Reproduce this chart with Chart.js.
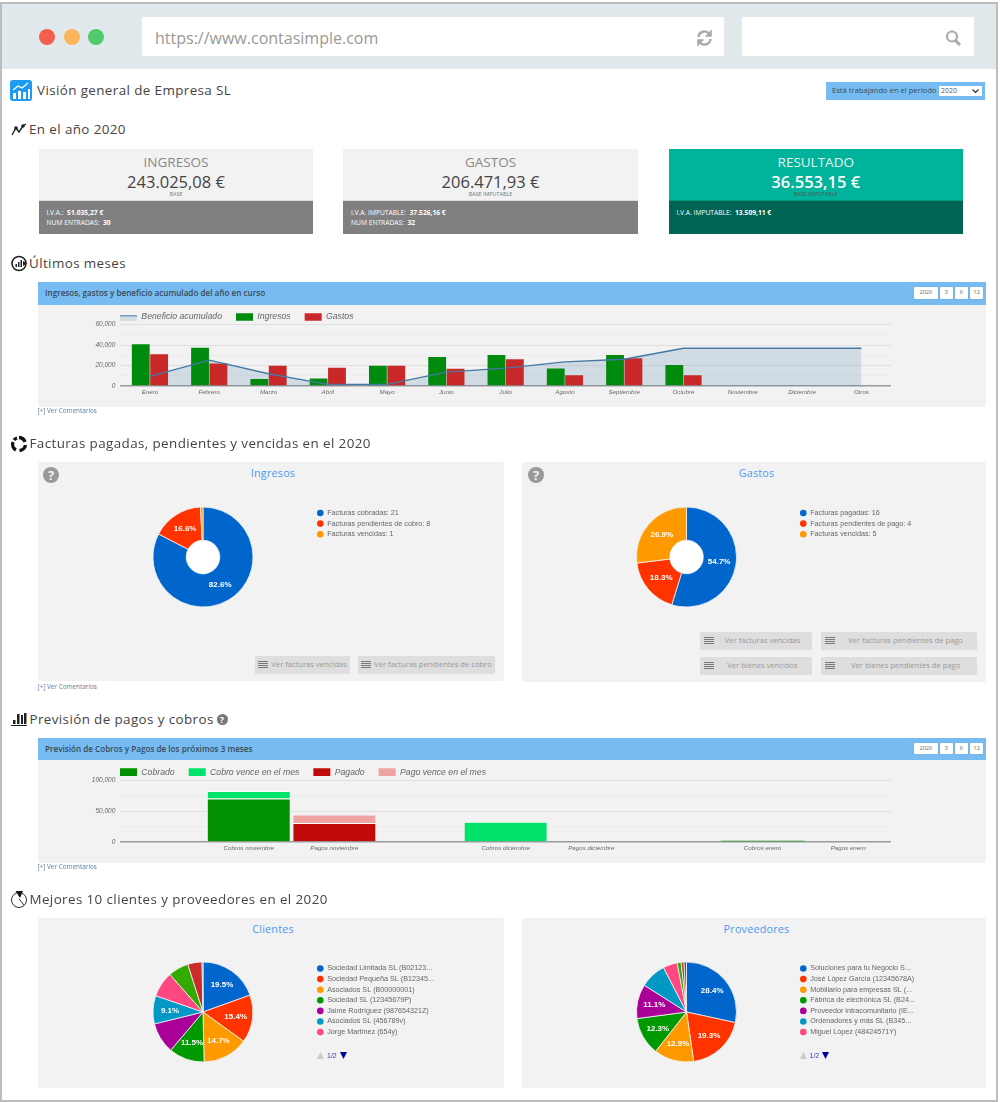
<!DOCTYPE html>
<html lang="es">
<head>
<meta charset="utf-8">
<title>Visión general de Empresa SL</title>
<script src="https://cdn.jsdelivr.net/npm/chart.js@4"></script>
<style>
  html, body { margin: 0; padding: 0; background: #fff; }
  body { width: 1000px; height: 1102px; position: relative; overflow: hidden; font-family: 'Open Sans', sans-serif; color: #444; }
  .box { position: absolute; }
  .t { position: absolute; white-space: nowrap; line-height: 1; transform: translateY(-50%); }
  .c { text-align: center; }
  .h { font-size: 13.4px; letter-spacing: .4px; color: #444; }
  .panel { position: absolute; background: #f2f2f2; border-radius: 2px; }
  .bar { position: absolute; background: #76bcf2; }
  .tit { font-size: 8.15px; font-weight: 600; color: #3c4a55; }
  .tb { position: absolute; background: #fff; border-radius: 1px; font-size: 5.6px; line-height: 11.5px; text-align: center; color: #666; box-shadow: 0 0 1px #888; }
  .com { font-size: 6.4px; color: #5b7ea3; }
  .pt { font-size: 10.8px; color: #4a9af0; letter-spacing: .2px; }
  .q { position: absolute; width: 16px; height: 16px; border-radius: 50%; background: #999; color: #f2f2f2; font: bold 13px/16px 'Open Sans', sans-serif; text-align: center; }
  .btn { position: absolute; background: #dedede; border-radius: 1px; color: #999; font-size: 7.6px; height: 17.5px; line-height: 17.5px; }
  .btn i { position: absolute; left: 3px; top: 5px; width: 10px; height: 8px; background: repeating-linear-gradient(#777 0 1px, #dedede 1px 2px); }
  .btn span { position: absolute; left: 15px; right: 2px; text-align: center; }
  .card { position: absolute; top: 149px; height: 85px; background: #f2f2f2; }
  .card .low { position: absolute; left: 0; right: 0; top: 51px; bottom: 0; background: #808080; border-top: 1px solid #ddd; box-sizing: border-box; }
  .k { font-size: 13.5px; color: #888; }
  .n { font-size: 16.5px; color: #444; }
  .b { font-size: 5.4px; color: #777; }
  .m { font-size: 6.7px; color: #fff; }
  canvas { position: absolute; }
  .pg { position: absolute; font: 7px 'Liberation Sans', Arial, sans-serif; color: #3a3ac0; }
</style>
</head>
<body>

<!-- marco del navegador -->
<div class="box" style="left:0;top:2px;height:1096px;border:2px solid #bdbdbd;box-sizing:content-box;width:994px;"></div>
<div class="box" style="left:2px;top:4px;width:994px;height:65px;background:#e2e9ed;"></div>
<div class="box" style="left:39px;top:29px;width:16px;height:16px;border-radius:50%;background:#f35f4e;"></div>
<div class="box" style="left:64px;top:29px;width:16px;height:16px;border-radius:50%;background:#fdb55b;"></div>
<div class="box" style="left:88px;top:29px;width:16px;height:16px;border-radius:50%;background:#4fcb6e;"></div>
<div class="box" style="left:141.5px;top:17px;width:582px;height:38.5px;background:#fff;border-radius:2px;"></div>
<div class="box" style="left:742px;top:17px;width:232px;height:38.5px;background:#fff;border-radius:2px;"></div>
<div class="t" style="left:155px;top:38.3px;font-size:16px;color:#999;">https://www.contasimple.com</div>
<svg class="box" style="left:696px;top:29px;" width="17" height="18" viewBox="0 0 17 18" fill="none" stroke="#aaa" stroke-width="2.4">
  <path d="M2.5 8 A6 6 0 0 1 13 4.5"/><path d="M14.5 10 A6 6 0 0 1 4 13.5"/>
  <path d="M15 1 V7 H9.5" stroke-width="1.6" fill="#aaa"/><path d="M2 17 V11 H7.5" stroke-width="1.6" fill="#aaa"/>
</svg>
<svg class="box" style="left:945px;top:29px;" width="17" height="18" viewBox="0 0 17 18" fill="none" stroke="#aaa">
  <circle cx="7" cy="7.5" r="5" stroke-width="2.2"/><path d="M10.5 11.5 L15 16" stroke-width="3"/>
</svg>

<!-- cabecera -->
<svg class="box" style="left:10px;top:80px;" width="22" height="21" viewBox="0 0 22 21">
  <rect width="22" height="21" rx="3" fill="#1e9af0"/>
  <path d="M3 19 V13 H6 V19 Z M8 19 V11 H11 V19 Z M13 19 V12 H16 V19 Z M18 19 V9 H20 V19 Z" fill="#fff"/>
  <path d="M3 10 L8 6 L12 8 L18 3" stroke="#fff" stroke-width="1.3" fill="none"/>
</svg>
<div class="t h" style="left:37px;top:90.5px;">Visión general de Empresa SL</div>
<div class="box" style="left:826px;top:82px;width:159px;height:18px;background:#76bcf2;"></div>
<div class="t" style="left:832px;top:91px;font-size:7.6px;color:#3c4a55;">Está trabajando en el período</div>
<div class="box" style="left:939px;top:86px;width:43px;height:9.5px;background:#fff;font-size:7px;line-height:9.5px;color:#555;text-indent:2px;">2020<svg style="position:absolute;left:33px;top:3px" width="7" height="4"><path d="M0.5 0.5 L3.5 3.5 L6.5 0.5" fill="none" stroke="#333" stroke-width="1.2"/></svg></div>

<!-- En el año 2020 -->
<svg class="box" style="left:11px;top:122px;" width="17" height="15" viewBox="0 0 17 15" fill="none" stroke="#222" stroke-width="1.4">
  <path d="M1 13 L5 6 L8 10 L12 4 L15 2"/><circle cx="5" cy="6" r="1.1" fill="#222"/><circle cx="12" cy="4" r="1.1" fill="#222"/>
</svg>
<div class="t h" style="left:29px;top:130px;">En el año 2020</div>

<div class="card" style="left:39px;width:274px;">
  <div class="t k c" style="left:0;right:0;top:14px;">INGRESOS</div>
  <div class="t n c" style="left:0;right:0;top:33px;">243.025,08 €</div>
  <div class="t b c" style="left:0;right:0;top:46px;">BASE</div>
  <div class="low">
    <div class="t m" style="left:7.5px;top:12px;">I.V.A.: &nbsp;<b>51.035,27 €</b></div>
    <div class="t m" style="left:7.5px;top:21.5px;">NUM ENTRADAS: &nbsp;<b>30</b></div>
  </div>
</div>
<div class="card" style="left:343px;width:295px;">
  <div class="t k c" style="left:0;right:0;top:14px;">GASTOS</div>
  <div class="t n c" style="left:0;right:0;top:33px;">206.471,93 €</div>
  <div class="t b c" style="left:0;right:0;top:46px;">BASE IMPUTABLE</div>
  <div class="low">
    <div class="t m" style="left:8px;top:12px;">I.V.A. IMPUTABLE: &nbsp;<b>37.526,16 €</b></div>
    <div class="t m" style="left:8px;top:21.5px;">NUM ENTRADAS: &nbsp;<b>32</b></div>
  </div>
</div>
<div class="card" style="left:668.5px;width:294.5px;background:#00b39a;">
  <div class="t k c" style="left:0;right:0;top:14px;color:#e4f4f1;">RESULTADO</div>
  <div class="t n c" style="left:0;right:0;top:33px;color:#fff;font-weight:600;">36.553,15 €</div>
  <div class="t b c" style="left:0;right:0;top:46px;color:#555;">BASE IMPUTABLE</div>
  <div class="low" style="background:#006454;border-top-color:#009a85;">
    <div class="t m" style="left:8px;top:12px;">I.V.A. IMPUTABLE: &nbsp;<b>13.509,11 €</b></div>
  </div>
</div>

<!-- Últimos meses -->
<svg class="box" style="left:11px;top:255px;" width="17" height="17" viewBox="0 0 17 17">
  <circle cx="8" cy="8.5" r="7" fill="none" stroke="#222" stroke-width="1.6"/><path d="M4.5 12 V9 H6 V12 Z M7 12 V7 H8.5 V12 Z M9.5 12 V5 H11 V12 Z M12 6 L16 8.5 L12 11 Z" fill="#222"/>
</svg>
<div class="t h" style="left:29px;top:264px;">Últimos meses</div>

<div class="panel" style="left:38px;top:282px;width:948px;height:124.5px;"></div>
<div class="bar" style="left:38px;top:282px;width:948px;height:22.7px;"></div>
<div class="t tit" style="left:45px;top:293px;">Ingresos, gastos y beneficio acumulado del año en curso</div>
<div class="tb" style="left:913.7px;top:287.3px;width:24.3px;height:11.5px;">2020</div>
<div class="tb" style="left:939.7px;top:287.3px;width:13.3px;height:11.5px;">3</div>
<div class="tb" style="left:954.7px;top:287.3px;width:13.3px;height:11.5px;">6</div>
<div class="tb" style="left:970px;top:287.3px;width:13.3px;height:11.5px;">12</div>
<canvas id="barChart" style="left:38px;top:291px;" width="948" height="115"></canvas>
<div class="t com" style="left:37.5px;top:411px;">[+] Ver Comentarios</div>

<!-- Facturas -->
<svg class="box" style="left:10px;top:435px;" width="18" height="18" viewBox="0 0 18 18" fill="none" stroke="#111" stroke-width="3.4">
  <path d="M9 2.5 A6.5 6.5 0 0 1 15 7"/><path d="M15.5 10 A6.5 6.5 0 0 1 9.5 15.5"/><path d="M6 15 A6.5 6.5 0 0 1 3 7"/><path d="M4 5 A6.5 6.5 0 0 1 7 3"/>
</svg>
<div class="t h" style="left:29.5px;top:444px;">Facturas pagadas, pendientes y vencidas en el 2020</div>

<div class="panel" style="left:37.5px;top:462px;width:466px;height:218.7px;"></div>
<div class="t pt c" style="left:43px;width:460px;top:473px;">Ingresos</div>
<div class="q" style="left:43px;top:467px;">?</div>
<canvas id="ingresosChart" style="left:38px;top:497px;" width="465" height="120"></canvas>
<div class="btn" style="left:255px;top:656px;width:95px;"><i></i><span>Ver facturas vencidas</span></div>
<div class="btn" style="left:358px;top:656px;width:137px;"><i></i><span>Ver facturas pendientes de cobro</span></div>
<div class="t com" style="left:37.5px;top:687px;">[+] Ver Comentarios</div>

<div class="panel" style="left:522px;top:462px;width:463.7px;height:220px;"></div>
<div class="t pt c" style="left:527.5px;width:458px;top:473px;">Gastos</div>
<div class="q" style="left:528px;top:467px;">?</div>
<canvas id="gastosChart" style="left:522px;top:497px;" width="464" height="120"></canvas>
<div class="btn" style="left:700px;top:632px;width:112px;"><i style="left:4px"></i><span>Ver facturas vencidas</span></div>
<div class="btn" style="left:821px;top:632px;width:156.3px;"><i style="left:4px"></i><span>Ver facturas pendientes de pago</span></div>
<div class="btn" style="left:700px;top:657px;width:112px;"><i style="left:4px"></i><span>Ver bienes vencidos</span></div>
<div class="btn" style="left:821px;top:657px;width:156.3px;"><i style="left:4px"></i><span>Ver bienes pendientes de pago</span></div>

<!-- Previsión -->
<svg class="box" style="left:11px;top:712px;" width="16" height="14" viewBox="0 0 16 14">
  <path d="M0 13 H16 V14 H0 Z M2 12 V8 H4.5 V12 Z M6 12 V2 H8.5 V12 Z M10 12 V3 H12 V12 Z M13 12 V1 H15.5 V12 Z" fill="#222"/>
</svg>
<div class="t h" style="left:29.5px;top:719.5px;">Previsión de pagos y cobros</div>
<div class="box" style="left:216.5px;top:713.5px;width:11px;height:11px;border-radius:50%;background:#777;color:#fff;font:bold 9px/11px 'Open Sans',sans-serif;text-align:center;">?</div>

<div class="panel" style="left:38px;top:738px;width:948px;height:125px;"></div>
<div class="bar" style="left:38px;top:738px;width:948px;height:22.3px;"></div>
<div class="t tit" style="left:45px;top:749px;">Previsión de Cobros y Pagos de los próximos 3 meses</div>
<div class="tb" style="left:913.7px;top:742.7px;width:24.3px;height:11.5px;">2020</div>
<div class="tb" style="left:939.7px;top:742.7px;width:13.3px;height:11.5px;">3</div>
<div class="tb" style="left:954.7px;top:742.7px;width:13.3px;height:11.5px;">6</div>
<div class="tb" style="left:970px;top:742.7px;width:13.3px;height:11.5px;">12</div>
<canvas id="previsionChart" style="left:38px;top:746px;" width="948" height="116"></canvas>
<div class="t com" style="left:37.5px;top:867px;">[+] Ver Comentarios</div>

<!-- Mejores 10 -->
<svg class="box" style="left:10px;top:890px;" width="18" height="18" viewBox="0 0 18 18">
  <circle cx="9" cy="10" r="7.5" fill="none" stroke="#333" stroke-width="1"/><path d="M5.5 1 H13 L10 8 Z" fill="#111"/><path d="M9 9 L14 15" stroke="#333"/>
</svg>
<div class="t h" style="left:29.5px;top:900px;">Mejores 10 clientes y proveedores en el 2020</div>

<div class="panel" style="left:37.5px;top:917.7px;width:466px;height:170.6px;"></div>
<div class="t pt c" style="left:43px;width:460px;top:929px;">Clientes</div>
<canvas id="clientesChart" style="left:38px;top:952px;" width="465" height="120"></canvas>
<svg class="box" style="left:317px;top:1052px;" width="7" height="7"><path d="M0 7 L3.5 0 L7 7 Z" fill="#ccc"/></svg>
<div class="pg" style="left:327px;top:1052px;">1/2</div>
<svg class="box" style="left:340px;top:1052px;" width="7" height="7"><path d="M0 0 L3.5 7 L7 0 Z" fill="#0000a0"/></svg>

<div class="panel" style="left:522px;top:918px;width:463.7px;height:169.7px;"></div>
<div class="t pt c" style="left:527.5px;width:458px;top:929px;">Proveedores</div>
<canvas id="proveedoresChart" style="left:522px;top:952px;" width="464" height="120"></canvas>
<svg class="box" style="left:799.5px;top:1052px;" width="7" height="7"><path d="M0 7 L3.5 0 L7 7 Z" fill="#ccc"/></svg>
<div class="pg" style="left:809.5px;top:1052px;">1/2</div>
<svg class="box" style="left:822px;top:1052px;" width="7" height="7"><path d="M0 0 L3.5 7 L7 0 Z" fill="#0000a0"/></svg>

<script>
// datos
const meses = ['Enero', 'Febrero', 'Marzo', 'Abril', 'Mayo', 'Junio', 'Julio', 'Agosto', 'Septiembre', 'Octubre', 'Noviembre', 'Diciembre', 'Otros'];
const beneficio = [9400, 25200, 12000, 1600, 1600, 13500, 17400, 23500, 26100, 36800, 36800, 36800, 36800];
const ingresos = [40650, 37400, 6800, 7400, 19700, 28400, 30300, 17100, 30300, 20600, 0, 0, 0];
const gastos = [31000, 21900, 19700, 17700, 19700, 16800, 26100, 10600, 27100, 10600, 0, 0, 0];

const previsionLabels = ['', 'Cobros noviembre', 'Pagos noviembre', '', 'Cobros diciembre', 'Pagos diciembre', '', 'Cobros enero', 'Pagos enero'];
const cobrado = [null, 70000, null, null, null, null, null, 2100, null];
const cobroVence = [null, 12400, null, null, 32600, null, null, null, null];
const pagado = [null, null, 30500, null, null, null, null, null, null];
const pagoVence = [null, null, 13900, null, null, null, null, null, null];

const ingresosLabels = ['Facturas cobradas: 21', 'Facturas pendientes de cobro: 8', 'Facturas vencidas: 1'];
const ingresosData = [82.6, 16.6, 0.8];
const ingresosPct = ['82.6%', '16.6%', ''];

const gastosLabels = ['Facturas pagadas: 16', 'Facturas pendientes de pago: 4', 'Facturas vencidas: 5'];
const gastosData = [54.7, 18.3, 26.9];
const gastosPct = ['54.7%', '18.3%', '26.9%'];

const clientesLabels = ['Sociedad Limitada SL (B02123...', 'Sociedad Pequeña SL (B12345...', 'Asociados SL (B00000001)', 'Sociedad SL (12345679P)', 'Jaime Rodríguez (987654321Z)', 'Asociados SL (456789v)', 'Jorge Martínez (654y)'];
const clientesData = [19.5, 15.4, 14.7, 11.5, 10, 9.1, 8.2, 6.6, 4.6, 0.3];
const clientesPct = ['19.5%', '15.4%', '14.7%', '11.5%', '', '9.1%', '', '', '', ''];

const proveedoresLabels = ['Soluciones para tu Negocio S...', 'José López García (12345678A)', 'Mobiliario para empresas SL (...', 'Fábrica de electrónica SL (B24...', 'Proveedor intracomunitario (IE...', 'Ordenadores y más SL (B345...', 'Miguel López (48424571Y)'];
const proveedoresData = [28.4, 19.3, 12.9, 12.3, 11.1, 8.4, 4.6, 1.3, 0.9, 0.8];
const proveedoresPct = ['28.4%', '19.3%', '12.9%', '12.3%', '11.1%', '', '', '', '', ''];

const paleta = ['#0066cc', '#ff3300', '#ff9900', '#009900', '#aa0099', '#0099c6', '#ff4781', '#33aa00', '#cc2b2b', '#316395'];

// mueve la leyenda al sitio del original
const legendAt = {
  id: 'legendAt',
  afterLayout(chart, args, opts) {
    const pad = chart.options.plugins.legend.labels.padding;
    const size = chart.options.plugins.legend.labels.font.size;
    chart.legend.left = opts.x - pad;
    chart.legend.top = opts.y - size / 2 - pad;
    chart.legend.right = chart.width;
  }
};

// el hueco del donut es blanco
const whiteHole = {
  id: 'whiteHole',
  beforeDatasetsDraw(chart) {
    const arc = chart.getDatasetMeta(0).data[0];
    if (!arc || !arc.innerRadius) return;
    const ctx = chart.ctx;
    ctx.save();
    ctx.fillStyle = '#fff';
    ctx.beginPath();
    ctx.arc(arc.x, arc.y, arc.innerRadius + 1, 0, Math.PI * 2);
    ctx.fill();
    ctx.restore();
  }
};

// porcentajes sobre las porciones
const sliceLabels = {
  id: 'sliceLabels',
  afterDatasetsDraw(chart, args, opts) {
    const ctx = chart.ctx;
    ctx.save();
    ctx.font = 'bold 8px Arial';
    ctx.fillStyle = '#fff';
    ctx.textAlign = 'center';
    ctx.textBaseline = 'middle';
    chart.getDatasetMeta(0).data.forEach(function (arc, i) {
      if (!opts.texts[i]) return;
      const p = arc.getProps(['x', 'y', 'startAngle', 'endAngle', 'outerRadius']);
      const a = (p.startAngle + p.endAngle) / 2;
      const r = p.outerRadius * 0.66;
      ctx.fillText(opts.texts[i], p.x + Math.cos(a) * r, p.y + Math.sin(a) * r);
    });
    ctx.restore();
  }
};

// la clave de Beneficio acumulado: linea con relleno debajo
const lineKey = {
  id: 'lineKey',
  afterDraw(chart, args, opts) {
    if (!opts.color) return;
    const ctx = chart.ctx;
    const at = chart.options.plugins.legendAt;
    ctx.save();
    ctx.fillStyle = opts.fill;
    ctx.fillRect(at.x, at.y - 1, 17, 5);
    ctx.fillStyle = opts.color;
    ctx.fillRect(at.x, at.y - 2, 17, 1.6);
    ctx.restore();
  }
};

function barOptions(max, step, labelStep, legendX, legendY, topPad) {
  return {
    responsive: false,
    animation: false,
    layout: { padding: { right: 95, top: topPad } },
    plugins: {
      legend: {
        position: 'top',
        align: 'start',
        labels: {
          color: '#666',
          boxWidth: 17,
          boxHeight: 7.7,
          padding: 14,
          font: { size: 8.7, style: 'italic', family: 'Arial' }
        }
      },
      legendAt: { x: legendX, y: legendY },
      filler: { drawTime: 'beforeDatasetsDraw' },
      tooltip: { enabled: false }
    },
    scales: {
      x: {
        stacked: max === 100000,
        afterFit: function (scale) { scale.height = 20; },
        grid: { display: false, drawTicks: false },
        border: { display: false },
        ticks: {
          autoSkip: false,
          maxRotation: 0,
          padding: 3,
          color: '#666',
          font: { size: 6.2, style: 'italic', family: 'Arial' }
        }
      },
      y: {
        stacked: max === 100000,
        min: 0,
        max: max,
        afterFit: function (scale) { scale.width = 82.3; },
        border: { display: false },
        grid: {
          drawTicks: false,
          color: function (c) {
            if (c.tick.value === 0) return '#9a9a9a';
            return c.tick.value % labelStep === 0 ? '#e0e0e0' : '#ececec';
          },
          lineWidth: function (c) { return c.tick.value === 0 ? 1.4 : 1; }
        },
        ticks: {
          stepSize: step,
          autoSkip: false,
          padding: 5,
          color: '#666',
          font: { size: 6.5, style: 'italic', family: 'Arial' },
          callback: function (v) { return v % labelStep === 0 ? v.toLocaleString('en-US') : ''; }
        }
      }
    }
  };
}

const barConfig = barOptions(60000, 10000, 20000, 82, 26, 0.8);
barConfig.plugins.legend.labels.generateLabels = function (chart) {
  const items = Chart.defaults.plugins.legend.labels.generateLabels(chart);
  items[0].fillStyle = 'rgba(0,0,0,0)';
  items[0].strokeStyle = 'rgba(0,0,0,0)';
  return items;
};
barConfig.plugins.lineKey = { color: '#7f9fbd', fill: '#d3dee5' };

new Chart(document.getElementById('barChart').getContext('2d'), {
  type: 'bar',
  plugins: [legendAt, lineKey],
  data: {
    labels: meses,
    datasets: [
      {
        type: 'line',
        label: 'Beneficio acumulado',
        data: beneficio,
        borderColor: '#4479a6',
        borderWidth: 1.4,
        backgroundColor: 'rgba(63,116,160,0.18)',
        pointRadius: 0,
        tension: 0,
        fill: 'origin'
      },
      { label: 'Ingresos', data: ingresos, backgroundColor: '#008a0e', categoryPercentage: 0.62, barPercentage: 0.97 },
      { label: 'Gastos', data: gastos, backgroundColor: '#c82828', categoryPercentage: 0.62, barPercentage: 0.97 }
    ]
  },
  options: barConfig
});

// borde claro salvo en las barras casi planas
const edge = function (c) { return c.raw > 5000 ? 1 : 0; };

new Chart(document.getElementById('previsionChart').getContext('2d'), {
  type: 'bar',
  plugins: [legendAt],
  data: {
    labels: previsionLabels,
    datasets: [
      { label: 'Cobrado', data: cobrado, backgroundColor: '#009000', borderColor: 'rgba(255,255,255,.7)', borderWidth: edge, categoryPercentage: 1, barPercentage: 0.98 },
      { label: 'Cobro vence en el mes', data: cobroVence, backgroundColor: '#00e36b', borderColor: 'rgba(255,255,255,.7)', borderWidth: edge, categoryPercentage: 1, barPercentage: 0.98 },
      { label: 'Pagado', data: pagado, backgroundColor: '#c00a0a', borderColor: 'rgba(255,255,255,.7)', borderWidth: edge, categoryPercentage: 1, barPercentage: 0.98 },
      { label: 'Pago vence en el mes', data: pagoVence, backgroundColor: '#eea2a2', borderColor: 'rgba(255,255,255,.7)', borderWidth: edge, categoryPercentage: 1, barPercentage: 0.98 }
    ]
  },
  options: barOptions(100000, 25000, 50000, 82, 26.2, 1.3)
});

function pieChart(id, labels, values, pct, cutout, legendX, legendY, rightPad) {
  new Chart(document.getElementById(id).getContext('2d'), {
    type: 'doughnut',
    plugins: [legendAt, whiteHole, sliceLabels],
    data: {
      labels: labels,
      datasets: [{ data: values, backgroundColor: paleta, borderColor: '#f4f4f4', borderWidth: 0.8 }]
    },
    options: {
      responsive: false,
      animation: false,
      cutout: cutout,
      radius: 50,
      layout: { padding: { right: rightPad } },
      plugins: {
        legend: {
          position: 'chartArea',
          align: 'start',
          labels: {
            color: '#666',
            usePointStyle: true,
            boxWidth: 6.6,
            boxHeight: 4.67,
            padding: 3.4,
            font: { size: 7.2, family: 'Arial' },
            generateLabels: function (chart) {
              const items = Chart.overrides.doughnut.plugins.legend.labels.generateLabels(chart);
              items.forEach(function (it) { it.lineWidth = 0; });
              return items;
            }
          }
        },
        legendAt: { x: legendX, y: legendY },
        sliceLabels: { texts: pct },
        tooltip: { enabled: false }
      }
    }
  });
}

pieChart('ingresosChart', ingresosLabels, ingresosData, ingresosPct, 20, 279, 16, 135);
pieChart('gastosChart', gastosLabels, gastosData, gastosPct, 20, 278, 16, 135);
pieChart('clientesChart', clientesLabels, clientesData, clientesPct, 0, 279, 16.5, 135);
pieChart('proveedoresChart', proveedoresLabels, proveedoresData, proveedoresPct, 0, 278, 16.5, 135);
</script>
</body>
</html>
